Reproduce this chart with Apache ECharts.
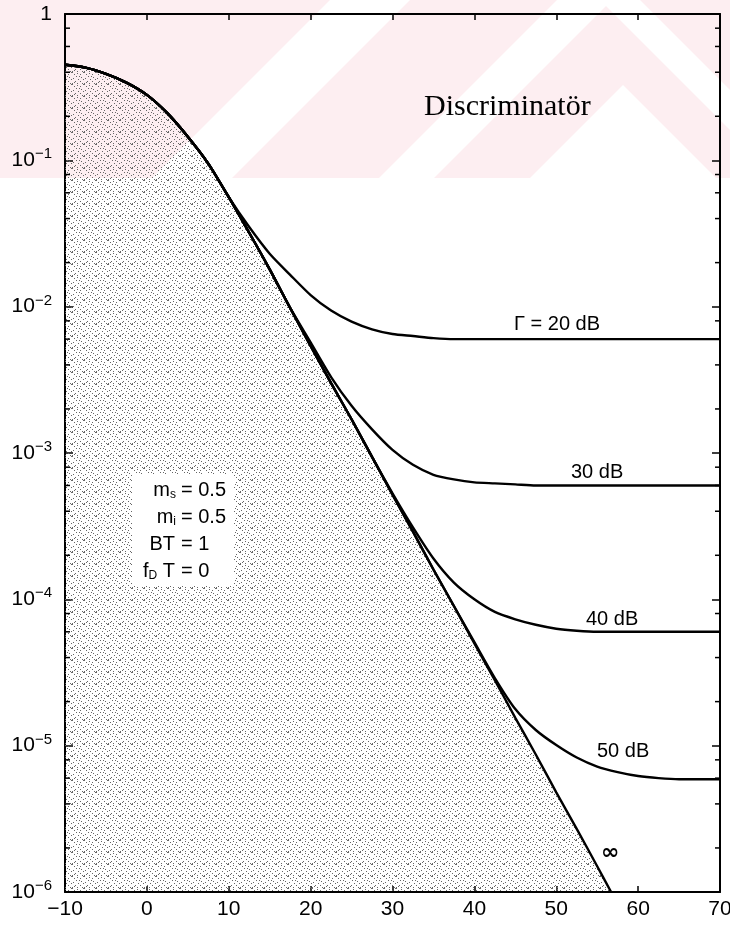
<!DOCTYPE html>
<html>
<head>
<meta charset="utf-8">
<script src="https://cdn.jsdelivr.net/npm/echarts@6/dist/echarts.min.js"></script>
<style>
  html, body { margin: 0; padding: 0; background: #fff; }
  #chart { width: 730px; height: 932px; }
</style>
</head>
<body>
<div id="chart"></div>
<script>
  // signal-to-noise ratio, dB
  var snrDb = [-10, -7.5, -5, -2.5, 0, 2.5, 5, 7.5, 10, 12.5, 15, 17.5, 20, 22.5, 25, 27.5, 30,
               32.5, 35, 37.5, 40, 42.5, 45, 47.5, 50, 52.5, 55, 57.5, 60, 62.5, 65, 67.5, 70];

  // bit error probability
  var berInf = [0.45, 0.43, 0.39, 0.34, 0.28, 0.21, 0.145, 0.095, 0.056, 0.032, 0.018, 0.0098, 0.0054,
                0.0030, 0.0017, 0.00094, 0.00052, 0.00029, 0.00016, 0.00009, 0.00005, 0.000028,
                0.0000155, 0.0000087, 0.0000048, 0.0000027, 0.0000015];
  var infEnd = [56.7, 0.000001];
  var ber20 = [0.45, 0.43, 0.39, 0.34, 0.28, 0.21, 0.145, 0.095, 0.056, 0.035, 0.023, 0.0165, 0.012,
               0.0094, 0.0079, 0.0070, 0.0065, 0.0063, 0.0061, 0.0060, 0.0060, 0.0060, 0.0060, 0.0060,
               0.0060, 0.0060, 0.0060, 0.0060, 0.0060, 0.0060, 0.0060, 0.0060, 0.0060];
  var ber30 = [0.45, 0.43, 0.39, 0.34, 0.28, 0.21, 0.145, 0.095, 0.056, 0.032, 0.018, 0.0098, 0.0057,
               0.0033, 0.0021, 0.00145, 0.00105, 0.00083, 0.00071, 0.00066, 0.00063, 0.00062, 0.00061,
               0.0006, 0.0006, 0.0006, 0.0006, 0.0006, 0.0006, 0.0006, 0.0006, 0.0006, 0.0006];
  var ber40 = [0.45, 0.43, 0.39, 0.34, 0.28, 0.21, 0.145, 0.095, 0.056, 0.032, 0.018, 0.0098, 0.0054,
               0.0030, 0.0017, 0.00094, 0.00053, 0.00031, 0.00019, 0.00013, 0.0001, 0.000082, 0.000073,
               0.000067, 0.000063, 0.000061, 0.00006, 0.00006, 0.00006, 0.00006, 0.00006, 0.00006, 0.00006];
  var ber50 = [0.45, 0.43, 0.39, 0.34, 0.28, 0.21, 0.145, 0.095, 0.056, 0.032, 0.018, 0.0098, 0.0054,
               0.0030, 0.0017, 0.00094, 0.00052, 0.00029, 0.00016, 0.00009, 0.000051, 0.000029,
               0.0000178, 0.0000128, 0.0000101, 0.0000083, 0.0000072, 0.0000066, 0.0000062, 0.000006,
               0.0000059, 0.0000059, 0.0000059];

  var minorSteps = [2, 4, 6, 8];
  var decades = [-6, -5, -4, -3, -2, -1];

  var chart = echarts.init(document.getElementById('chart'));

  function pairs(vals) {
    var out = [];
    for (var i = 0; i < vals.length; i++) out.push([snrDb[i], vals[i]]);
    return out;
  }

  // stipple under the ideal curve: irregular dot tile
  var dotSpots = [[0, 0], [5, 1], [2, 2], [8, 2], [11, 0], [4, 4], [9, 5], [1, 6], [6, 7], [11, 7],
                  [3, 9], [8, 9], [0, 11], [5, 11], [10, 11], [7, 4], [2, 10]];
  var dot = document.createElement('canvas');
  dot.width = 12; dot.height = 12;
  var dc = dot.getContext('2d');
  dc.fillStyle = '#666';
  dotSpots.forEach(function (p) { dc.fillRect(p[0], p[1], 1, 1); });

  var minorData = [];
  decades.forEach(function (d) {
    minorSteps.forEach(function (m) { minorData.push([-10, m * Math.pow(10, d)]); });
  });

  var sans = 'Liberation Sans';
  var lineStyle = { color: '#000', width: 2.4 };

  var infData = pairs(berInf);
  infData.push(infEnd);

  function curve(name, data, area) {
    var s = {
      name: name, type: 'line', data: data, showSymbol: false, smooth: 0.25,
      lineStyle: lineStyle, silent: true, z: 3
    };
    if (area) s.areaStyle = { color: { image: dot, repeat: 'repeat' }, opacity: 1 };
    return s;
  }

  var subRich = {
    t: { fontSize: 20, fontFamily: sans, color: '#000' },
    u: { fontSize: 12, fontFamily: sans, color: '#000', padding: [9, 0, 0, 0] }
  };

  var option = {
    backgroundColor: '#fff',
    animation: false,
    grid: { left: 65, right: 10, top: 14, bottom: 40, outerBoundsMode: 'none', containLabel: false },
    xAxis: [{
      type: 'value', min: -10, max: 70, interval: 10,
      axisLine: { onZero: false, lineStyle: { color: '#000', width: 2 } },
      axisTick: { inside: true, length: 6, lineStyle: { color: '#000', width: 1.5 } },
      axisLabel: {
        color: '#000', fontSize: 21, fontFamily: sans, margin: 7, hideOverlap: false,
        formatter: function (v) { return v < 0 ? '\u2212' + (-v) : String(v); }
      },
      splitLine: { show: false }
    }, {
      type: 'value', position: 'top', min: -10, max: 70, interval: 10,
      axisLine: { onZero: false, lineStyle: { color: '#000', width: 2 } },
      axisTick: { inside: true, length: 6, lineStyle: { color: '#000', width: 1.5 } },
      axisLabel: { show: false }, splitLine: { show: false }
    }],
    yAxis: [{
      type: 'log', logBase: 10, min: 0.000001, max: 1,
      axisLine: { show: true, onZero: false, lineStyle: { color: '#000', width: 2 } },
      axisTick: { inside: true, length: 8, lineStyle: { color: '#000', width: 1.5 } },
      axisLabel: {
        color: '#000', margin: 13, fontSize: 21, fontFamily: sans,
        formatter: function (v) {
          var e = Math.round(Math.log(v) / Math.LN10);
          return e === 0 ? '{b|1}' : '{b|10}{s|\u2212' + (-e) + '}';
        },
        rich: {
          b: { fontSize: 21, fontFamily: sans, color: '#000' },
          s: { fontSize: 15, fontFamily: sans, color: '#000', padding: [0, 0, 12, 0] }
        }
      },
      splitLine: { show: false }
    }, {
      type: 'log', logBase: 10, min: 0.000001, max: 1, position: 'right',
      axisLine: { show: true, onZero: false, lineStyle: { color: '#000', width: 2 } },
      axisTick: { inside: true, length: 8, lineStyle: { color: '#000', width: 1.5 } },
      axisLabel: { show: false }, splitLine: { show: false }
    }],
    graphic: [
      { type: 'rect', z: -10, shape: { x: 0, y: 0, width: 730, height: 178 }, style: { fill: '#fdeef1' } },
      { type: 'polygon', z: -9, shape: { points: [[330, 0], [410, 0], [232, 178], [152, 178]] }, style: { fill: '#fff' } },
      { type: 'polygon', z: -9, shape: { points: [[557, 0], [612, 0], [434, 178], [379, 178]] }, style: { fill: '#fff' } },
      { type: 'polygon', z: -9, shape: { points: [[623, 85], [716, 178], [530, 178]] }, style: { fill: '#fff' } },
      { type: 'polygon', z: -9, shape: { points: [[600, 0], [640, 0], [730, 90], [730, 130]] }, style: { fill: '#fff' } },
      {
        type: 'text', left: 424, top: 92, z: 10,
        style: { text: 'Discriminat\u00f6r', font: '30px "Liberation Serif"', fill: '#000' }
      },
      {
        type: 'text', left: 514, top: 314, z: 10,
        style: { text: '\u0393 = 20 dB', font: '20px "Liberation Sans"', fill: '#000' }
      },
      {
        type: 'text', left: 571, top: 462, z: 10,
        style: { text: '30 dB', font: '20px "Liberation Sans"', fill: '#000' }
      },
      {
        type: 'text', left: 586, top: 609, z: 10,
        style: { text: '40 dB', font: '20px "Liberation Sans"', fill: '#000' }
      },
      {
        type: 'text', left: 597, top: 741, z: 10,
        style: { text: '50 dB', font: '20px "Liberation Sans"', fill: '#000' }
      },
      {
        type: 'text', left: 601, top: 842, z: 10,
        style: { text: '\u221e', font: 'bold 22px "DejaVu Sans"', fill: '#000' }
      },
      { type: 'rect', z: 9, shape: { x: 132, y: 474, width: 102, height: 112 }, style: { fill: '#fff' } },
      {
        type: 'text', z: 10, x: 176, y: 490,
        style: { text: '{t|m}{u|s}', align: 'right', verticalAlign: 'middle', rich: subRich }
      },
      { type: 'text', z: 10, x: 181, y: 490, style: { text: '= 0.5', font: '20px "Liberation Sans"', verticalAlign: 'middle' } },
      {
        type: 'text', z: 10, x: 176, y: 517,
        style: { text: '{t|m}{u|i}', align: 'right', verticalAlign: 'middle', rich: subRich }
      },
      { type: 'text', z: 10, x: 181, y: 517, style: { text: '= 0.5', font: '20px "Liberation Sans"', verticalAlign: 'middle' } },
      { type: 'text', z: 10, x: 175, y: 544, style: { text: 'BT', font: '20px "Liberation Sans"', align: 'right', verticalAlign: 'middle' } },
      { type: 'text', z: 10, x: 181, y: 544, style: { text: '= 1', font: '20px "Liberation Sans"', verticalAlign: 'middle' } },
      {
        type: 'text', z: 10, x: 175, y: 571,
        style: { text: '{t|f}{u|D}{t| T}', align: 'right', verticalAlign: 'middle', rich: subRich }
      },
      { type: 'text', z: 10, x: 181, y: 571, style: { text: '= 0', font: '20px "Liberation Sans"', verticalAlign: 'middle' } }
    ],
    series: [
      curve('inf', infData, true),
      curve('20 dB', pairs(ber20)),
      curve('30 dB', pairs(ber30)),
      curve('40 dB', pairs(ber40)),
      curve('50 dB', pairs(ber50)),
      {
        type: 'custom', silent: true, data: minorData, z: 4,
        renderItem: function (params, api) {
          var l = api.coord([-10, api.value(1)]);
          var r = api.coord([70, api.value(1)]);
          var st = { stroke: '#000', lineWidth: 1.5 };
          return {
            type: 'group', children: [
              { type: 'line', shape: { x1: l[0], y1: l[1], x2: l[0] + 5, y2: l[1] }, style: st },
              { type: 'line', shape: { x1: r[0], y1: r[1], x2: r[0] - 5, y2: r[1] }, style: st }
            ]
          };
        }
      }
    ]
  };

  chart.setOption(option);
</script>
</body>
</html>
